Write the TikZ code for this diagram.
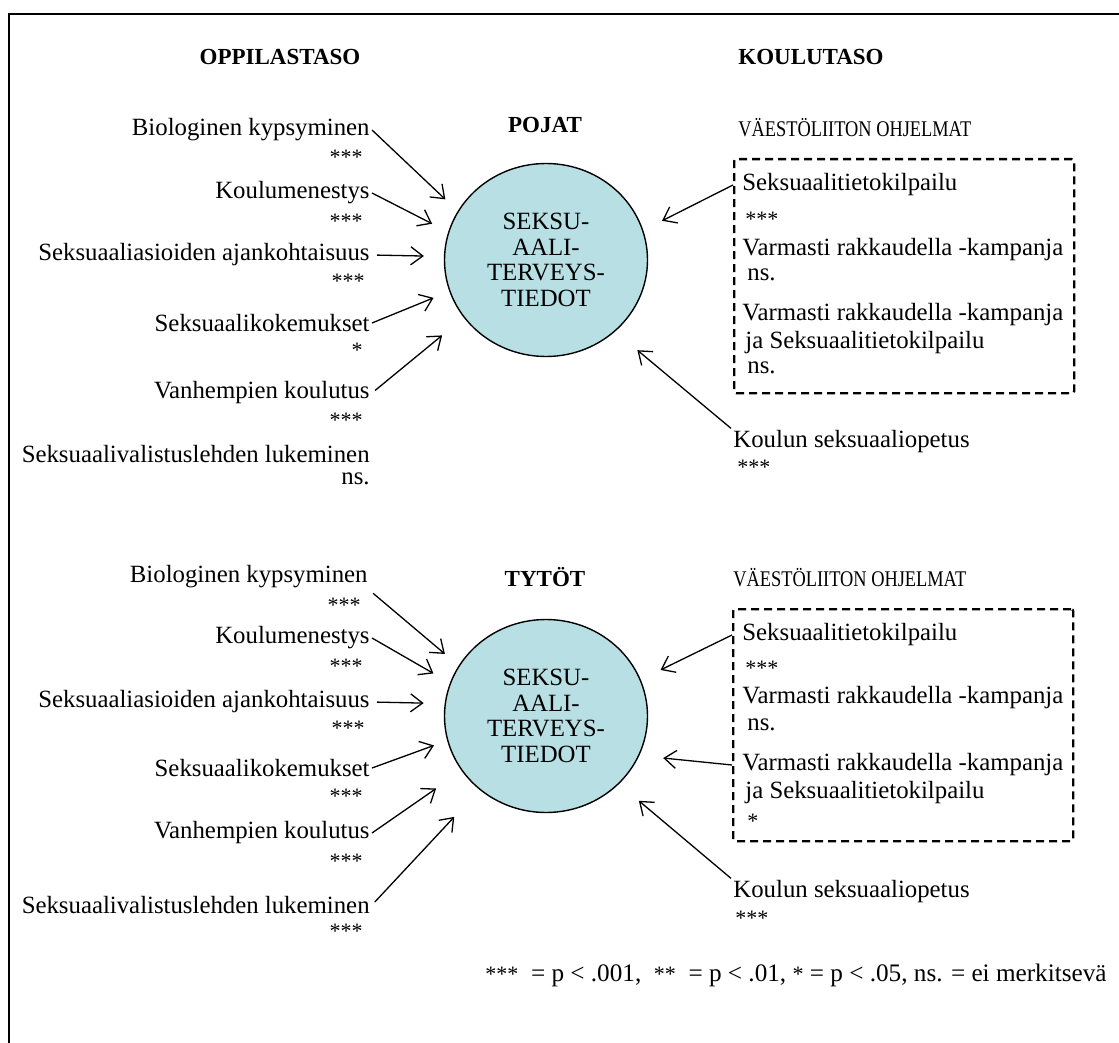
\documentclass[tikz,border=0pt]{standalone}
\usepackage{fontspec}
\setmainfont{Liberation Serif}
\usetikzlibrary{shapes.geometric,arrows.meta}
\definecolor{ellfill}{HTML}{B8DFE3}
\newcommand\myfs{\fontsize{12.4}{13}\selectfont}
\newcommand\mystarfs{\fontsize{11}{11}\selectfont}
\newcommand\myprogfs{\fontsize{11.2}{12}\selectfont}
\newcommand\myprog[1]{\scalebox{0.82}[1]{#1}}
\begin{document}
\begin{tikzpicture}[x=0.5pt,y=-0.5pt,
  lab/.style={font=\myfs, inner sep=1pt},
  labl/.style={lab, anchor=east},
  labr/.style={lab, anchor=west},
  starl/.style={font=\mystarfs, inner sep=1pt, anchor=east},
  starr/.style={font=\mystarfs, inner sep=1pt, anchor=west},
  head/.style={font=\fontsize{11.5}{12}\selectfont\bfseries, inner sep=1pt},
  prog/.style={font=\myprogfs, inner sep=1pt, anchor=west},
  ellnode/.style={ellipse, draw, line width=0.7pt, fill=ellfill, minimum width=101.5pt, minimum height=96.5pt, inner sep=0pt, align=center, font=\fontsize{12.4}{12.8}\selectfont},
  arr/.style={-{Straight Barb[length=6pt,width=9pt]}, line width=0.65pt},
  dbox/.style={draw, dash pattern=on 4pt off 2.5pt, line width=1.2pt, rounded corners=1pt, anchor=north west, inner sep=0pt}
]
\useasboundingbox (0,0) rectangle (1119,1043);
% frame
\draw[line width=1pt] (9,1043) -- (9,14) -- (1119,14);

% headings
\node[head] (hop) at (280,57) {OPPILASTASO};
\node[head] (hko) at (811,57) {KOULUTASO};
\node[head] (hpo) at (545,125) {POJAT};
\node[head] (hty) at (545,577) {TYTÖT};

% ===== upper (POJAT) =====
\node[ellnode] (e1) at (546,260) {SEKSU-\\AALI-\\TERVEYS-\\TIEDOT};

\node[labl] (b1) at (372,130) {Biologinen kypsyminen};
\node[starl] (b1s) at (365,157) {***};
\node[labl] (k1) at (372,193) {Koulumenestys};
\node[starl] (k1s) at (365,221) {***};
\node[labl] (s1) at (372,255) {Seksuaaliasioiden ajankohtaisuus};
\node[starl] (s1s) at (367,281) {***};
\node[labl] (x1) at (372,323) {Seksuaalikokemukset};
\node[starl] (x1s) at (365,350) {*};
\node[labl] (v1) at (372,393) {Vanhempien koulutus};
\node[starl] (v1s) at (365,420) {***};
\node[labl] (l1) at (372,454) {Seksuaalivalistuslehden lukeminen};
\node[labl] (l1s) at (372,479) {ns.};

\node[prog] (p1) at (736,128) {\myprog{VÄESTÖLIITON OHJELMAT}};
\node[dbox, minimum width=170pt, minimum height=117pt] (box1) at (733,158) {};
\node[labr] (r1) at (740,185) {Seksuaalitietokilpailu};
\node[starr] (r1s) at (743,219) {***};
\node[labr] (r2) at (740,250) {Varmasti rakkaudella -kampanja};
\node[labr] (r2s) at (745,275) {ns.};
\node[labr] (r3) at (740,315) {Varmasti rakkaudella -kampanja};
\node[labr] (r3b) at (743,343) {ja Seksuaalitietokilpailu};
\node[labr] (r3s) at (745,368) {ns.};
\node[labr] (ks1) at (731,442) {Koulun seksuaaliopetus};
\node[starr] (ks1s) at (735,467) {***};

\draw[arr, shorten >=8.5pt] (b1.east) -- (e1.151);
\draw[arr, shorten >=9pt] (k1.east) -- (e1.164);
\draw[arr, shorten <=2.5pt, shorten >=10pt] (s1.east) -- (e1.178);
\draw[arr, shorten >=8.5pt] (x1.east) -- (e1.198);
\draw[arr, shorten <=2pt, shorten >=14pt] (v1.east) -- (e1.215);
\draw[arr, shorten >=10.5pt] (box1.west |- r1) -- (e1.17);
\draw[arr, shorten >=14.5pt] (ks1.north west) -- (e1.314);

% ===== lower (TYTÖT) =====
\node[ellnode] (e2) at (546,716) {SEKSU-\\AALI-\\TERVEYS-\\TIEDOT};

\node[labl] (b2) at (370,577) {Biologinen kypsyminen};
\node[starl] (b2s) at (363,605) {***};
\node[labl] (k2) at (372,638) {Koulumenestys};
\node[starl] (k2s) at (365,666) {***};
\node[labl] (s2) at (372,702) {Seksuaaliasioiden ajankohtaisuus};
\node[starl] (s2s) at (367,728) {***};
\node[labl] (x2) at (372,768) {Seksuaalikokemukset};
\node[starl] (x2s) at (365,796) {***};
\node[labl] (v2) at (372,833) {Vanhempien koulutus};
\node[starl] (v2s) at (365,861) {***};
\node[labl] (l2) at (372,905) {Seksuaalivalistuslehden lukeminen};
\node[starl] (l2s) at (365,931) {***};

\node[prog] (p2) at (731,578) {\myprog{VÄESTÖLIITON OHJELMAT}};
\node[dbox, minimum width=170pt, minimum height=116pt] (box2) at (732,608) {};
\node[labr] (q1) at (740,635) {Seksuaalitietokilpailu};
\node[starr] (q1s) at (743,668) {***};
\node[labr] (q2) at (740,698) {Varmasti rakkaudella -kampanja};
\node[labr] (q2s) at (745,725) {ns.};
\node[labr] (q3) at (740,765) {Varmasti rakkaudella -kampanja};
\node[labr] (q3b) at (743,793) {ja Seksuaalitietokilpailu};
\node[starr] (q3s) at (745,821) {*};
\node[labr] (ks2) at (731,892) {Koulun seksuaaliopetus};
\node[starr] (ks2s) at (733,918) {***};

\draw[arr, shorten <=2pt, shorten >=9pt] (b2.south east) -- (e2.150);
\draw[arr, shorten >=9.5pt] (k2.east) -- (e2.161);
\draw[arr, shorten <=2.5pt, shorten >=10.5pt] (s2.east) -- (e2.173);
\draw[arr, shorten >=7pt] (x2.east) -- (e2.194);
\draw[arr, shorten >=15.5pt] (v2.east) -- (e2.213);
\draw[arr, shorten <=2pt, shorten >=18.5pt] (l2.east) -- (e2.228);
\draw[arr, shorten >=11pt] (box2.west |- q1) -- (e2.21);
\draw[arr, shorten >=12pt] (box2.west |- q3) -- (e2.337);
\draw[arr, shorten >=13pt] (ks2.north west) -- (e2.317);

% legend
\node[lab, font=\fontsize{12.6}{13}\selectfont] (leg) at (796,975) {{\mystarfs ***}\ \ = p < .001,\ \ {\mystarfs **}\ \ = p < .01, {\mystarfs *} = p < .05, ns. = ei merkitsevä};
\end{tikzpicture}
\end{document}
